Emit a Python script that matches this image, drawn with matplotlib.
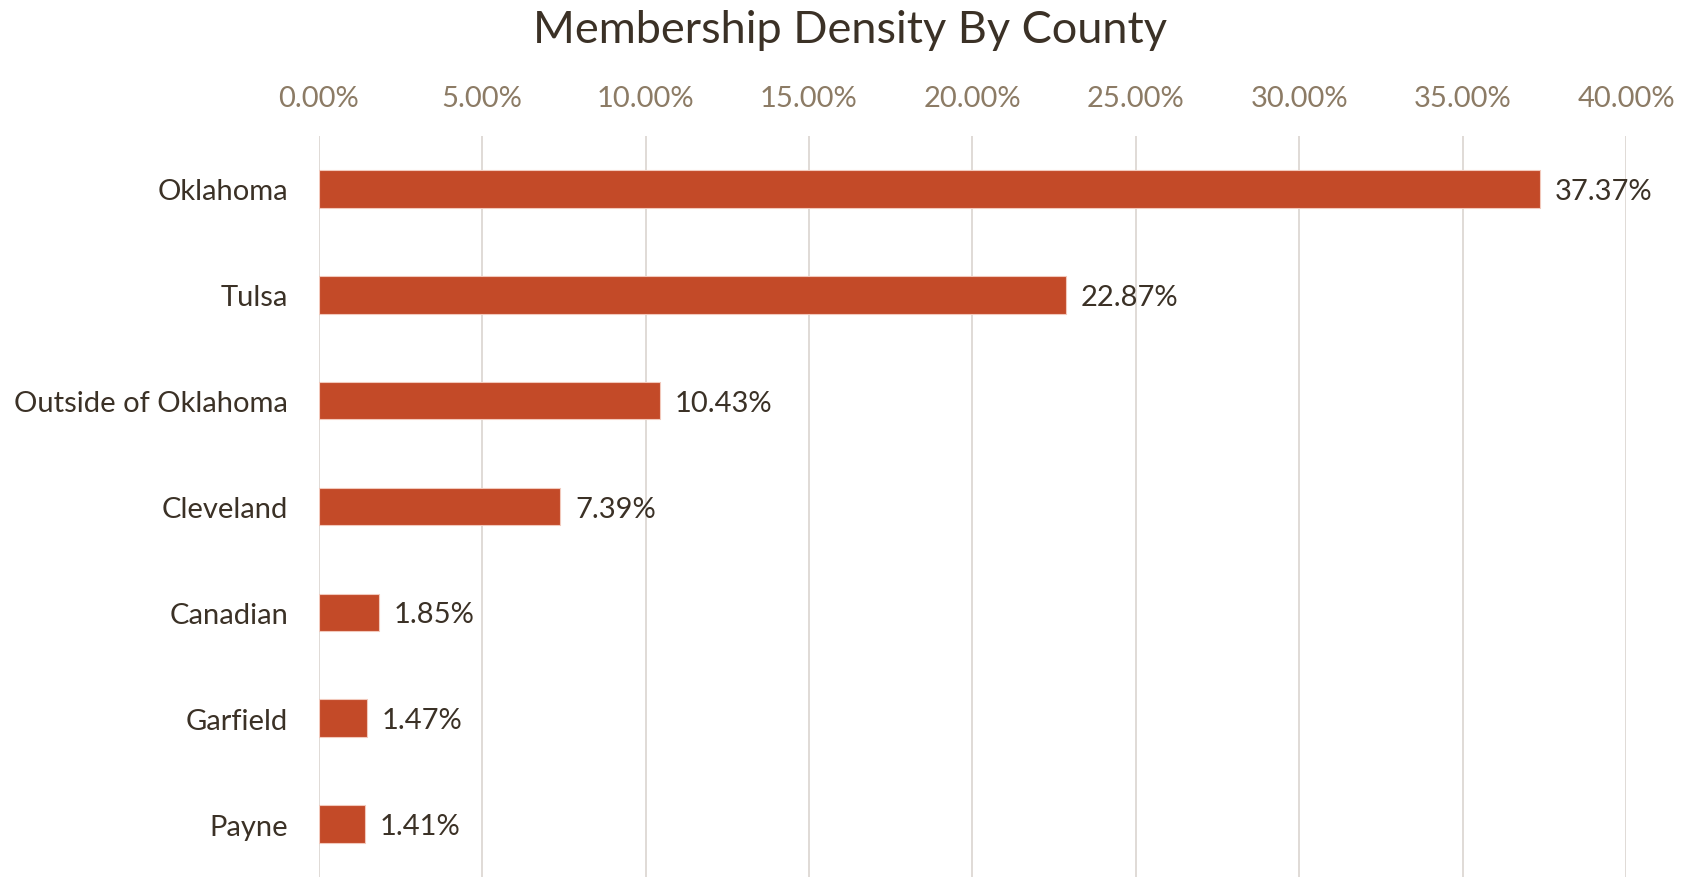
import matplotlib
matplotlib.use('Agg')
import matplotlib.pyplot as plt
from matplotlib.ticker import FuncFormatter

plt.rcParams['font.family'] = ['Lato', 'DejaVu Sans']

counties = ['Oklahoma', 'Tulsa', 'Outside of Oklahoma', 'Cleveland', 'Canadian', 'Garfield', 'Payne']
density = [37.37, 22.87, 10.43, 7.39, 1.85, 1.47, 1.41]
ticks = [0, 5, 10, 15, 20, 25, 30, 35, 40]

bar_col = '#C34A28'
text_col = '#3B3126'
tick_col = '#8C7B65'
grid_col = '#DDD8D3'

fig = plt.figure(figsize=(16.83, 8.78), dpi=100)
ax = fig.add_axes([318.8/1683, 0.0, (1626-318.8)/1683, (878-137)/878])

y = list(range(len(counties)))
ax.barh(y, density, height=0.355, color=bar_col, edgecolor='#F2C9BC', linewidth=0.8, zorder=3)
for yi, v in zip(y, density):
    ax.text(v + 0.45, yi + 0.02, f'{v:.2f}%', va='center', ha='left', fontsize=21, color=text_col)

ax.set_xlim(0, 40)
ax.set_ylim(6.5, -0.5)
ax.set_xticks(ticks)
ax.xaxis.set_major_formatter(FuncFormatter(lambda v, p: f'{v:.2f}%'))
ax.xaxis.tick_top()
ax.tick_params(axis='x', length=0, pad=18, labelsize=21, labelcolor=tick_col)
ax.set_yticks(y)
ax.set_yticklabels(counties)
ax.tick_params(axis='y', length=0, pad=22, labelsize=21, labelcolor=text_col)
ax.grid(axis='x', color=grid_col, linewidth=1.3, zorder=0)
for s in ax.spines.values():
    s.set_visible(False)

fig.text(0.505, 0.965, 'Membership Density By County', ha='center', va='center', fontsize=32.5, color=text_col)

fig.savefig('out.png', dpi=100)
